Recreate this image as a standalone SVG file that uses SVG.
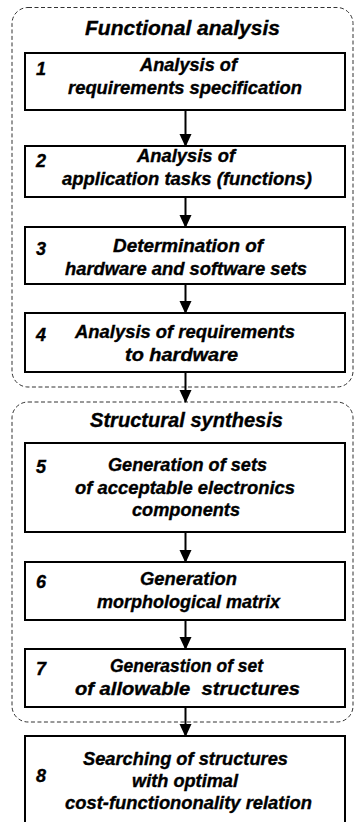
<svg xmlns="http://www.w3.org/2000/svg" width="355" height="822" viewBox="0 0 355 822">
<style>
.grp{fill:none;stroke:#333;stroke-width:1;stroke-dasharray:4 2.5}
.box{fill:#fff;stroke:#000;stroke-width:2}
.t{font-family:"Liberation Sans",Arial,sans-serif;font-weight:bold;font-style:italic;font-size:18px;fill:#000;stroke:#000;stroke-width:0.35;text-anchor:middle;white-space:pre}
.h{font-size:20px}
.n{font-family:"Liberation Sans",Arial,sans-serif;font-weight:bold;font-style:italic;font-size:18px;fill:#000;stroke:#000;stroke-width:0.35}
.c{stroke:#000;stroke-width:2;fill:none}
</style>
<defs>
<marker id="ah" markerWidth="13" markerHeight="14" refX="13" refY="6.5" orient="auto" markerUnits="userSpaceOnUse" viewBox="0 0 14 13">
<path d="M0,0 L14,6.5 L0,13 Z" fill="#000"/>
</marker>
</defs>
<g id="group-functional">
<rect class="grp" x="12" y="7.5" width="341" height="379.5" rx="16" ry="16"/>
<text class="t h" x="182.5" y="35" textLength="195" lengthAdjust="spacingAndGlyphs">Functional analysis</text>
</g>
<g id="group-structural">
<rect class="grp" x="12" y="402" width="341" height="320" rx="16" ry="16"/>
<text class="t h" x="186.5" y="427" textLength="193" lengthAdjust="spacingAndGlyphs">Structural synthesis</text>
</g>
<g id="connectors">
<line class="c" x1="185.5" y1="110" x2="185.5" y2="146" marker-end="url(#ah)"/>
<line class="c" x1="185.5" y1="197" x2="185.5" y2="227" marker-end="url(#ah)"/>
<line class="c" x1="185.5" y1="284" x2="185.5" y2="313" marker-end="url(#ah)"/>
<line class="c" x1="185.5" y1="372" x2="185.5" y2="402" marker-end="url(#ah)"/>
<line class="c" x1="185.5" y1="532" x2="185.5" y2="562" marker-end="url(#ah)"/>
<line class="c" x1="185.5" y1="620" x2="185.5" y2="649" marker-end="url(#ah)"/>
<line class="c" x1="185.5" y1="707" x2="185.5" y2="736" marker-end="url(#ah)"/>
</g>
<g id="n1">
<rect class="box" x="25" y="53" width="320" height="57"/>
<text class="n" x="36" y="75">1</text>
<text class="t" x="188.5" y="71" textLength="97" lengthAdjust="spacingAndGlyphs">Analysis of</text>
<text class="t" x="185" y="94" textLength="234" lengthAdjust="spacingAndGlyphs">requirements specification</text>
</g>
<g id="n2">
<rect class="box" x="25" y="146" width="320" height="51"/>
<text class="n" x="36" y="166.5">2</text>
<text class="t" x="186" y="162" textLength="98" lengthAdjust="spacingAndGlyphs">Analysis of</text>
<text class="t" x="187" y="185" textLength="250" lengthAdjust="spacingAndGlyphs">application tasks (functions)</text>
</g>
<g id="n3">
<rect class="box" x="25" y="227" width="320" height="57"/>
<text class="n" x="36" y="255">3</text>
<text class="t" x="188" y="252" textLength="150" lengthAdjust="spacingAndGlyphs">Determination of</text>
<text class="t" x="186" y="275" textLength="242" lengthAdjust="spacingAndGlyphs">hardware and software sets</text>
</g>
<g id="n4">
<rect class="box" x="25" y="313" width="320" height="59"/>
<text class="n" x="36" y="341">4</text>
<text class="t" x="185" y="338" textLength="220" lengthAdjust="spacingAndGlyphs">Analysis of requirements</text>
<text class="t" x="181.5" y="361" textLength="113" lengthAdjust="spacingAndGlyphs">to hardware</text>
</g>
<g id="n5">
<rect class="box" x="25" y="443" width="320" height="89"/>
<text class="n" x="36" y="473">5</text>
<text class="t" x="187.5" y="471" textLength="159" lengthAdjust="spacingAndGlyphs">Generation of sets</text>
<text class="t" x="185" y="494" textLength="220" lengthAdjust="spacingAndGlyphs">of acceptable electronics</text>
<text class="t" x="186" y="516" textLength="108" lengthAdjust="spacingAndGlyphs">components</text>
</g>
<g id="n6">
<rect class="box" x="25" y="562" width="320" height="58"/>
<text class="n" x="36" y="588">6</text>
<text class="t" x="188.5" y="585" textLength="97" lengthAdjust="spacingAndGlyphs">Generation</text>
<text class="t" x="188.5" y="608" textLength="183" lengthAdjust="spacingAndGlyphs">morphological matrix</text>
</g>
<g id="n7">
<rect class="box" x="25" y="649" width="320" height="58"/>
<text class="n" x="36" y="675">7</text>
<text class="t" x="186.5" y="672" textLength="153" lengthAdjust="spacingAndGlyphs">Generastion of set</text>
<text class="t" x="187.5" y="695" textLength="225" lengthAdjust="spacingAndGlyphs">of allowable  structures</text>
</g>
<g id="n8">
<rect class="box" x="25" y="736" width="320" height="90"/>
<text class="n" x="36" y="782">8</text>
<text class="t" x="185.5" y="765" textLength="205" lengthAdjust="spacingAndGlyphs">Searching of structures</text>
<text class="t" x="185" y="787" textLength="106" lengthAdjust="spacingAndGlyphs">with optimal</text>
<text class="t" x="188.5" y="809" textLength="247" lengthAdjust="spacingAndGlyphs">cost-functiononality relation</text>
</g>
</svg>
